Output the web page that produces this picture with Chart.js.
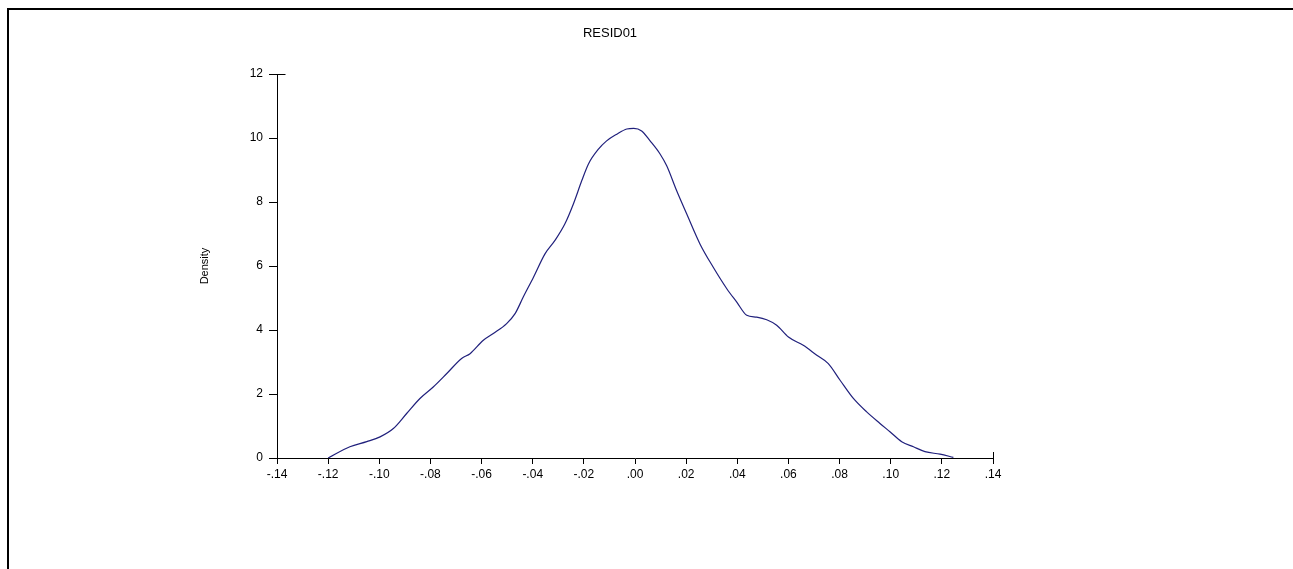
<!DOCTYPE html>
<html>
<head>
<meta charset="utf-8">
<script src="https://cdn.jsdelivr.net/npm/chart.js@4/dist/chart.umd.min.js"></script>
<style>
    html, body { margin: 0; padding: 0; background: #fff; }
    #wrap { position: relative; width: 1293px; height: 569px; }
    #frame {
        position: absolute; left: 7px; top: 8px; right: 0; bottom: 0;
        border-top: 2px solid #000; border-left: 2px solid #000;
        pointer-events: none;
    }
</style>
</head>
<body>
<div id="wrap">
    <canvas id="densityChart" width="1293" height="569"></canvas>
    <div id="frame"></div>
</div>
<script>
const chartTitle = 'RESID01';
const yAxisTitle = 'Density';
const xTicks = { min: -0.14, max: 0.14, step: 0.02 };
const yTicks = { min: 0, max: 12, step: 2 };

// kernel density
const residX = [
    -0.1200, -0.1115, -0.1049, -0.0997, -0.0945, -0.0893, -0.0841, -0.0789,
    -0.0736, -0.0678, -0.0645, -0.0593, -0.0554, -0.0502, -0.0469, -0.0437,
    -0.0397, -0.0352, -0.0313, -0.0274, -0.0241, -0.0208, -0.0182, -0.0143,
    -0.0111, -0.0071, -0.0032, -0.0005, 0.0026, 0.0059, 0.0098, 0.0124,
    0.0163, 0.0202, 0.0254, 0.0306, 0.0359, 0.0398, 0.0437, 0.0476,
    0.0515, 0.0554, 0.0600, 0.0658, 0.0711, 0.0756, 0.0802, 0.0854,
    0.0906, 0.0958, 0.0997, 0.1043, 0.1089, 0.1134, 0.1193, 0.1245
];
const densityY = [
    0.00, 0.35, 0.51, 0.66, 0.92, 1.39, 1.86, 2.22,
    2.64, 3.11, 3.26, 3.68, 3.89, 4.20, 4.51, 5.03,
    5.65, 6.38, 6.80, 7.32, 7.94, 8.67, 9.19, 9.65,
    9.91, 10.12, 10.28, 10.30, 10.22, 9.91, 9.50, 9.13,
    8.35, 7.63, 6.69, 5.96, 5.29, 4.87, 4.46, 4.40,
    4.32, 4.15, 3.78, 3.52, 3.21, 2.95, 2.43, 1.86,
    1.44, 1.08, 0.82, 0.51, 0.35, 0.20, 0.12, 0.02
];

function fmtTick(v) {
    if (Math.abs(v) < 1e-9) return '.00';
    return (v < 0 ? '-' : '') + Math.abs(v).toFixed(2).replace(/^0/, '');
}

const FONT = "'Liberation Sans', Arial, sans-serif";

// title text plus the little end caps on the axes
const decorations = {
    id: 'decorations',
    afterDraw(chart) {
        const ctx = chart.ctx;
        const xs = chart.scales.x;
        const ys = chart.scales.y;
        ctx.save();
        ctx.fillStyle = '#000';
        ctx.font = '13px ' + FONT;
        ctx.textAlign = 'center';
        ctx.textBaseline = 'middle';
        ctx.fillText(chartTitle, 610, 33);

        ctx.strokeStyle = '#000';
        ctx.lineWidth = 1;
        const yTop = Math.round(ys.getPixelForValue(yTicks.max)) + 0.5;
        const xAxisX = Math.round(xs.left) + 0.5;
        ctx.beginPath();
        ctx.moveTo(xAxisX, yTop);
        ctx.lineTo(xAxisX + 8, yTop);
        const xRight = Math.round(xs.getPixelForValue(xTicks.max)) + 0.5;
        const yBase = Math.round(ys.bottom);
        ctx.moveTo(xRight, yBase);
        ctx.lineTo(xRight, yBase - 6);
        ctx.stroke();
        ctx.restore();
    }
};

const points = residX.map((x, i) => ({ x: x, y: densityY[i] }));

new Chart(document.getElementById('densityChart').getContext('2d'), {
    type: 'line',
    data: {
        datasets: [{
            label: chartTitle,
            data: points,
            borderColor: '#20207c',
            borderWidth: 1.2,
            pointRadius: 0,
            cubicInterpolationMode: 'monotone',
            fill: false
        }]
    },
    options: {
        responsive: false,
        animation: false,
        layout: { padding: { left: 194, top: 74, right: 300, bottom: 81 } },
        plugins: {
            legend: { display: false },
            title: { display: false },
            tooltip: { enabled: false }
        },
        scales: {
            x: {
                type: 'linear',
                min: xTicks.min,
                max: xTicks.max,
                afterFit(scale) { scale.height = 30; },
                border: { color: '#000', width: 1 },
                grid: { drawOnChartArea: false, tickLength: 6, color: '#000' },
                ticks: {
                    stepSize: xTicks.step,
                    color: '#000',
                    padding: 3,
                    maxRotation: 0,
                    autoSkip: false,
                    font: { family: FONT, size: 12 },
                    callback: fmtTick
                }
            },
            y: {
                min: yTicks.min,
                max: yTicks.max,
                afterFit(scale) { scale.width = 83; },
                border: { color: '#000', width: 1 },
                grid: { drawOnChartArea: false, tickLength: 8, color: '#000' },
                ticks: {
                    stepSize: yTicks.step,
                    color: '#000',
                    padding: 6,
                    font: { family: FONT, size: 12 }
                },
                title: {
                    display: true,
                    text: yAxisTitle,
                    color: '#000',
                    padding: { top: 4, bottom: 0 },
                    font: { family: FONT, size: 11 }
                }
            }
        }
    },
    plugins: [decorations]
});
</script>
</body>
</html>
